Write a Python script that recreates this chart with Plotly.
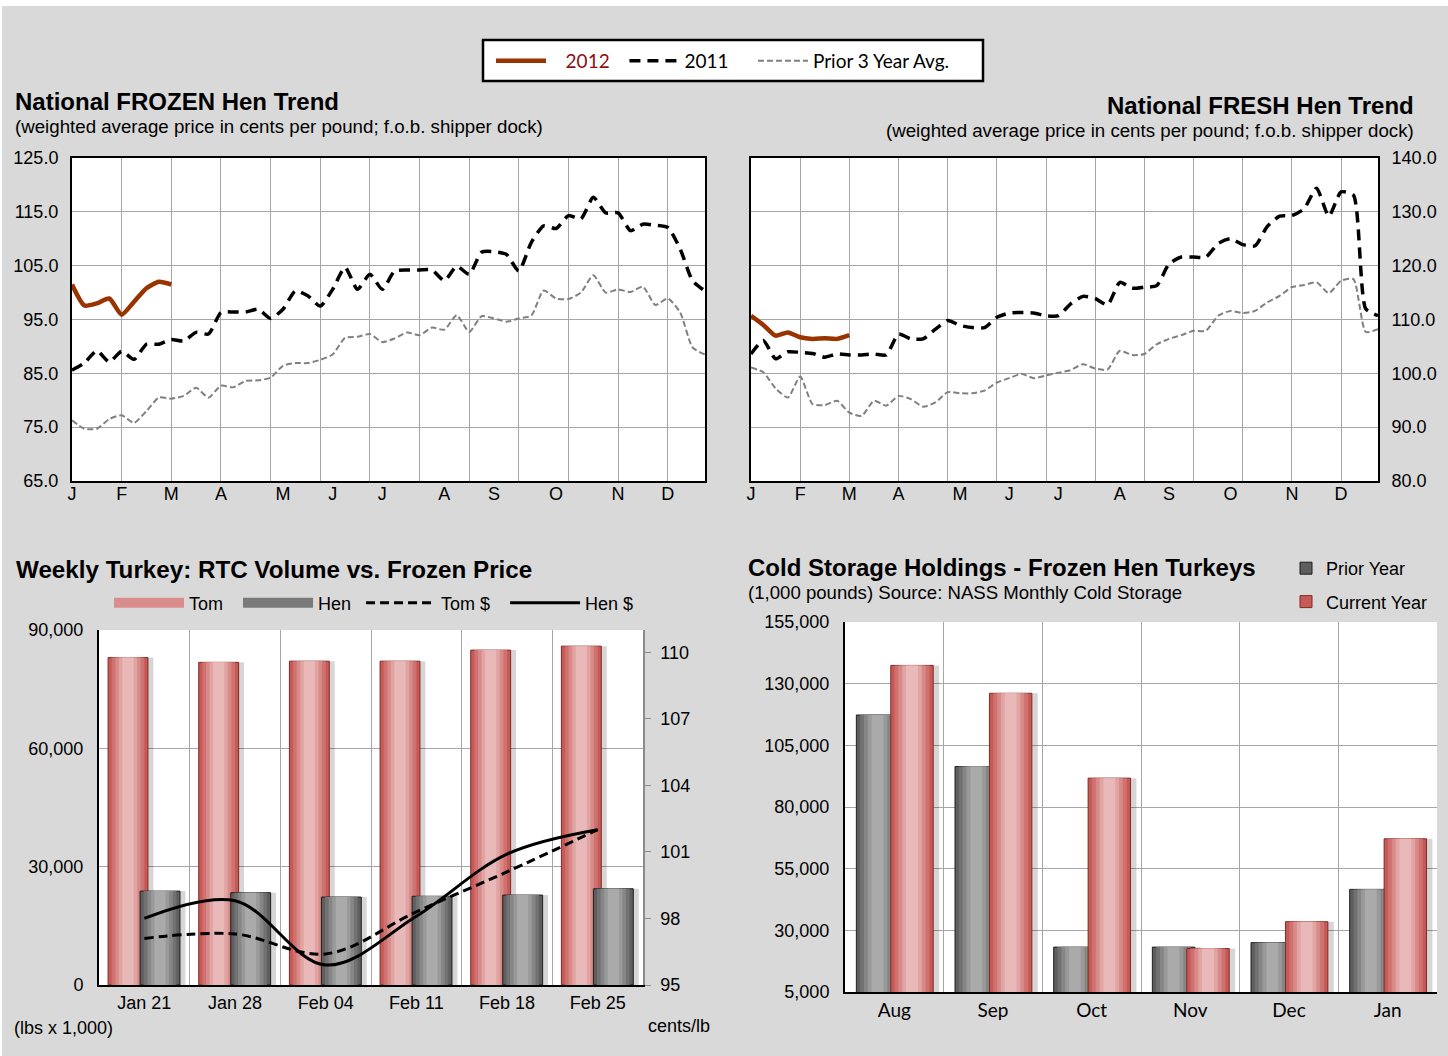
import plotly.graph_objects as go

# ---------------- data ----------------
weeks = list(range(52))
month_labels = ['J', 'F', 'M', 'A', 'M', 'J', 'J', 'A', 'S', 'O', 'N', 'D']
month_pos = [0, 4, 8, 12, 17, 21, 25, 30, 34, 39, 44, 48]
grid_weeks = list(range(0, 52, 4))

frozen_2012 = [101.5, 97.6, 98.0, 98.9, 95.9, 98.3, 100.8, 102.0, 101.5]
frozen_2011 = [85.6, 86.9, 89.2, 87.1, 89.1, 87.6, 90.4, 90.4, 91.3, 91.0,
               92.6, 92.3, 96.3, 96.4, 96.4, 96.9, 95.2, 96.9, 100.3, 99.4,
               97.5, 100.6, 104.7, 100.6, 103.4, 100.6, 104.0, 104.2, 104.2, 104.2,
               102.2, 104.9, 103.4, 107.5, 107.6, 107.1, 104.0, 109.3, 112.4, 111.9,
               114.3, 113.7, 117.7, 114.8, 114.8, 111.5, 112.7, 112.5, 112.1, 108.1,
               102.2, 100.3]
frozen_avg = [76.3, 74.7, 74.7, 76.5, 77.2, 75.8, 78.0, 80.5, 80.3, 80.8,
              82.3, 80.5, 82.7, 82.4, 83.6, 83.7, 84.2, 86.4, 86.9, 86.9,
              87.5, 88.5, 91.6, 91.8, 92.3, 90.8, 91.5, 92.6, 92.1, 93.5,
              93.1, 95.8, 92.7, 95.6, 95.2, 94.6, 95.2, 95.7, 100.4, 98.9,
              98.8, 100.0, 103.2, 100.0, 100.6, 100.1, 101.1, 97.7, 98.9, 96.3,
              89.8, 88.5]

fresh_2012 = [110.7, 109.0, 107.0, 107.6, 106.7, 106.4, 106.5, 106.4, 107.1]
fresh_2011 = [103.6, 106.1, 102.7, 104.0, 103.9, 103.7, 103.0, 103.6, 103.4, 103.4,
              103.6, 103.4, 107.3, 106.4, 106.4, 108.2, 109.8, 108.9, 108.5, 108.5,
              110.4, 111.2, 111.3, 111.2, 110.7, 110.7, 112.9, 114.3, 113.9, 112.7,
              116.9, 115.8, 116.0, 116.3, 120.3, 121.6, 121.6, 121.6, 124.1, 125.0,
              123.9, 123.7, 127.3, 129.2, 129.3, 130.6, 134.4, 129.2, 133.7, 133.1,
              112.0, 110.7]
fresh_avg = [101.1, 100.2, 97.2, 95.5, 99.4, 94.3, 94.1, 94.9, 92.7, 92.1,
             94.9, 94.0, 95.8, 95.2, 93.8, 94.6, 96.5, 96.3, 96.3, 96.8,
             98.3, 99.1, 99.9, 99.1, 99.6, 100.1, 100.6, 101.7, 100.9, 100.7,
             104.2, 103.4, 103.6, 105.4, 106.4, 107.1, 107.9, 107.9, 110.7, 111.6,
             111.2, 111.6, 113.2, 114.4, 116.0, 116.4, 116.9, 114.9, 117.2, 117.5,
             107.7, 108.2]

week_labels = ['Jan 21', 'Jan 28', 'Feb 04', 'Feb 11', 'Feb 18', 'Feb 25']
tom_volume = [83000, 81800, 82100, 82100, 84900, 85900]
hen_volume = [23800, 23400, 22300, 22500, 22800, 24400]
tom_price = [97.1, 97.3, 96.4, 98.3, 100.1, 102.0]
hen_price = [98.0, 98.8, 95.9, 98.1, 100.9, 102.0]

storage_months = ['Aug', 'Sep', 'Oct', 'Nov', 'Dec', 'Jan']
prior_year = [117300, 96400, 23200, 23200, 25000, 46600]
current_year = [137400, 126100, 91700, 22600, 33500, 67100]

# ---------------- helpers ----------------
# page is offset by (2, 6) px: the figure fills the rest of the 1448x1056 window
OX, OY = 2, 6
W, H = 1448 - OX, 1056 - OY
def px(p):
    return (p - OX) / W
def py(p):
    return 1 - (p - OY) / H

FONT = 'Liberation Sans, Arial, sans-serif'
CAL = 'Lato, Open Sans, sans-serif'
GRID = '#A6A6A6'
NB = '\u00a0'

RED_LAYERS = ('#C65A57', '#7F2A28', [(0.82, '#CF716E'), (0.64, '#D88A88'), (0.46, '#E0A4A2'), (0.28, '#E8B9B8')])
GRAY_LAYERS = ('#5E5E5E', '#1F1F1F', [(0.82, '#717171'), (0.64, '#868686'), (0.46, '#999999'), (0.28, '#AAAAAA')])

fig = go.Figure()


def cyl_bars(x, y, name, style, width, offset, xa, ya, legend, rank, group, showlegend=True):
    base, edge, layers = style
    # soft drop shadow to the right
    fig.add_trace(go.Bar(x=x, y=y, width=width, offset=offset + 0.06,
                         marker=dict(color='rgba(0,0,0,0.16)', line=dict(width=0)),
                         xaxis=xa, yaxis=ya, showlegend=False, hoverinfo='skip'))
    fig.add_trace(go.Bar(x=x, y=y, name=name, width=width, offset=offset,
                         marker=dict(color=base, line=dict(color=edge, width=1)),
                         xaxis=xa, yaxis=ya, legend=legend, legendrank=rank,
                         legendgroup=group, showlegend=showlegend, hoverinfo='skip'))
    for frac, col in layers:
        w = width * frac
        fig.add_trace(go.Bar(x=x, y=y, width=w, offset=offset + (width - w) / 2,
                             marker=dict(color=col, line=dict(width=0)),
                             xaxis=xa, yaxis=ya, showlegend=False, hoverinfo='skip'))


# ---------------- top-left: frozen ----------------
fig.add_trace(go.Scatter(x=weeks, y=frozen_avg, mode='lines', name='Prior 3 Year Avg.',
                         line=dict(color='#808080', width=2, dash='6px,3px', shape='spline', smoothing=0.6),
                         xaxis='x', yaxis='y', legend='legend', legendrank=3))
fig.add_trace(go.Scatter(x=weeks, y=frozen_2011, mode='lines', name='2011' + NB * 4,
                         line=dict(color='black', width=3.5, dash='11px,7px', shape='spline', smoothing=0.6),
                         xaxis='x', yaxis='y', legend='legend', legendrank=2))
fig.add_trace(go.Scatter(x=weeks[:len(frozen_2012)], y=frozen_2012, mode='lines',
                         name=NB * 3 + '<span style="color:#8B1010">2012</span>' + NB * 2,
                         line=dict(color='#993300', width=4.5, shape='spline', smoothing=0.6),
                         xaxis='x5', yaxis='y', legend='legend', legendrank=1))

# ---------------- top-right: fresh ----------------
fig.add_trace(go.Scatter(x=weeks, y=fresh_avg, mode='lines', showlegend=False,
                         line=dict(color='#808080', width=2, dash='6px,3px', shape='spline', smoothing=0.6),
                         xaxis='x2', yaxis='y2'))
fig.add_trace(go.Scatter(x=weeks, y=fresh_2011, mode='lines', showlegend=False,
                         line=dict(color='black', width=3.5, dash='11px,7px', shape='spline', smoothing=0.6),
                         xaxis='x2', yaxis='y2'))
fig.add_trace(go.Scatter(x=weeks[:len(fresh_2012)], y=fresh_2012, mode='lines', showlegend=False,
                         line=dict(color='#993300', width=4.5, shape='spline', smoothing=0.6),
                         xaxis='x6', yaxis='y2'))

# ---------------- bottom-left: weekly volume vs price ----------------
cyl_bars(week_labels, tom_volume, 'Tom', RED_LAYERS, 0.44, -0.40, 'x3', 'y3', 'legend2', 1, 'tom', False)
cyl_bars(week_labels, hen_volume, 'Hen', GRAY_LAYERS, 0.44, -0.047, 'x3', 'y3', 'legend2', 2, 'hen', False)
# wide legend swatches for the two volume series (legend entries only)
fig.add_trace(go.Scatter(x=[None], y=[None], mode='lines', name='Tom' + NB * 2,
                         line=dict(color='#DA8E8C', width=10), xaxis='x3', yaxis='y3',
                         legend='legend2', legendrank=1, legendgroup='tom', hoverinfo='skip'))
fig.add_trace(go.Scatter(x=[None], y=[None], mode='lines', name='Hen' + NB,
                         line=dict(color='#7A7A7A', width=10), xaxis='x3', yaxis='y3',
                         legend='legend2', legendrank=2, legendgroup='hen', hoverinfo='skip'))
fig.add_trace(go.Scatter(x=week_labels, y=tom_price, mode='lines', name='Tom $' + NB * 2,
                         line=dict(color='black', width=3, dash='9px,5px', shape='spline', smoothing=1.0),
                         xaxis='x3', yaxis='y4', legend='legend2', legendrank=3))
fig.add_trace(go.Scatter(x=week_labels, y=hen_price, mode='lines', name='Hen $',
                         line=dict(color='black', width=3, shape='spline', smoothing=1.0),
                         xaxis='x3', yaxis='y4', legend='legend2', legendrank=4))

# ---------------- bottom-right: cold storage ----------------
cyl_bars(storage_months, prior_year, 'Prior Year', GRAY_LAYERS, 0.43, -0.385, 'x4', 'y5', 'legend3', 1, 'prior')
cyl_bars(storage_months, current_year, 'Current Year', RED_LAYERS, 0.43, -0.036, 'x4', 'y5', 'legend3', 2, 'current')

# ---------------- layout ----------------
top_y = [py(481), py(158)]
common_line = dict(showline=True, linecolor='black', linewidth=2, mirror=True, zeroline=False,
                   automargin=False)

layout = dict(
    width=W, height=H,
    margin=dict(l=0, r=0, t=0, b=0, autoexpand=False),
    paper_bgcolor='#D9D9D9', plot_bgcolor='white',
    font=dict(family=FONT, size=18, color='black'),
    barmode='overlay',
    xaxis=dict(domain=[px(72), px(705)], anchor='y', range=[0, 51], tickvals=grid_weeks,
               showticklabels=False, ticks='', showgrid=True, gridcolor=GRID, gridwidth=1, **common_line),
    xaxis5=dict(overlaying='x', anchor='y', side='bottom', range=[0, 51], tickvals=month_pos,
                ticktext=month_labels, showgrid=False, showline=False, zeroline=False, ticks='',
                tickfont=dict(size=18), automargin=False),
    yaxis=dict(domain=top_y, anchor='x', range=[65, 125], tick0=65, dtick=10, tickformat='.1f',
               showgrid=True, gridcolor=GRID, ticks='', ticklabelstandoff=8, **common_line),
    xaxis2=dict(domain=[px(751), px(1378)], anchor='y2', range=[0, 51], tickvals=grid_weeks,
                showticklabels=False, ticks='', showgrid=True, gridcolor=GRID, **common_line),
    xaxis6=dict(overlaying='x2', anchor='y2', side='bottom', range=[0, 51], tickvals=month_pos,
                ticktext=month_labels, showgrid=False, showline=False, zeroline=False, ticks='',
                tickfont=dict(size=18), automargin=False),
    yaxis2=dict(domain=top_y, anchor='x2', side='right', range=[80, 140], tick0=80, dtick=10,
                tickformat='.1f', showgrid=True, gridcolor=GRID, ticks='', ticklabelstandoff=8,
                **common_line),
    xaxis3=dict(domain=[px(99), px(643)], anchor='y3', type='category', range=[-0.5, 5.5],
                tickson='boundaries', ticks='', showgrid=True, gridcolor=GRID, showline=True,
                linecolor='black', linewidth=2, zeroline=False, automargin=False),
    yaxis3=dict(domain=[py(985), py(630)], anchor='x3', range=[0, 90000], dtick=30000,
                tickformat=',d', showgrid=True, gridcolor=GRID, showline=True, linecolor='black',
                linewidth=2, ticks='', zeroline=False, ticklabelstandoff=10, automargin=False),
    yaxis4=dict(overlaying='y3', anchor='x3', side='right', range=[95, 111], tick0=95, dtick=3,
                showgrid=False, showline=True, linecolor='#8C8C8C', linewidth=1.5, ticks='outside',
                ticklen=6, tickcolor='#8C8C8C', zeroline=False, ticklabelstandoff=6, automargin=False),
    xaxis4=dict(domain=[px(845), px(1437)], anchor='y5', type='category', range=[-0.5, 5.5],
                tickson='boundaries', ticks='', showgrid=True, gridcolor=GRID, showline=True,
                linecolor='black', linewidth=2, zeroline=False, tickfont=dict(family=CAL, size=19),
                automargin=False),
    yaxis5=dict(domain=[py(992), py(622)], anchor='x4', range=[5000, 155000], tick0=5000,
                dtick=25000, tickformat=',d', showgrid=True, gridcolor=GRID, showline=True,
                linecolor='black', linewidth=2, ticks='', zeroline=False, ticklabelstandoff=10,
                automargin=False),
    legend=dict(orientation='h', x=px(491), xanchor='left', y=py(61), yanchor='middle',
                bgcolor='rgba(0,0,0,0)', borderwidth=0, itemwidth=50,
                font=dict(family=CAL, size=19), traceorder='normal'),
    legend2=dict(orientation='h', x=px(109), xanchor='left', y=py(603), yanchor='middle',
                 bgcolor='rgba(0,0,0,0)', itemwidth=70, font=dict(size=18)),
    legend3=dict(orientation='v', x=px(1286), xanchor='left', y=py(550), yanchor='top',
                 bgcolor='rgba(0,0,0,0)', font=dict(size=18), tracegroupgap=7, itemwidth=30),
    shapes=[dict(type='rect', xref='paper', yref='paper', x0=px(483), x1=px(983),
                 y0=py(81), y1=py(40), fillcolor='white', line=dict(color='black', width=2.5),
                 layer='below')],
)
fig.update_layout(**layout)

ann = []
def note(text, x, y, xanchor='left', size=18, bold=False, family=FONT):
    t = f'<b>{text}</b>' if bold else text
    ann.append(dict(text=t, x=px(x), y=py(y), xref='paper', yref='paper', xanchor=xanchor,
                    yanchor='middle', showarrow=False, font=dict(family=family, size=size, color='black')))

note('National FROZEN Hen Trend', 13, 102, size=24, bold=True)
note('(weighted average price in cents per pound; f.o.b. shipper dock)', 13, 126, size=18.7)
note('National FRESH Hen Trend', 1416, 105, xanchor='right', size=24, bold=True)
note('(weighted average price in cents per pound; f.o.b. shipper dock)', 1416, 130, xanchor='right', size=18.7)
note('Weekly Turkey: RTC Volume vs. Frozen Price', 14, 569, size=24.2, bold=True)
note('(lbs x 1,000)', 12, 1028, size=18)
note('cents/lb', 712, 1026, xanchor='right', size=18)
note('Cold Storage Holdings - Frozen Hen Turkeys', 746, 567, size=24, bold=True)
note('(1,000 pounds) Source: NASS Monthly Cold Storage', 746, 592, size=18.6)
fig.update_layout(annotations=ann)

fig.write_html('out.html',
               post_script="document.body.style.margin='6px 0 0 2px';"
                           "document.body.style.background='white';"
                           "document.body.style.overflow='hidden';")
